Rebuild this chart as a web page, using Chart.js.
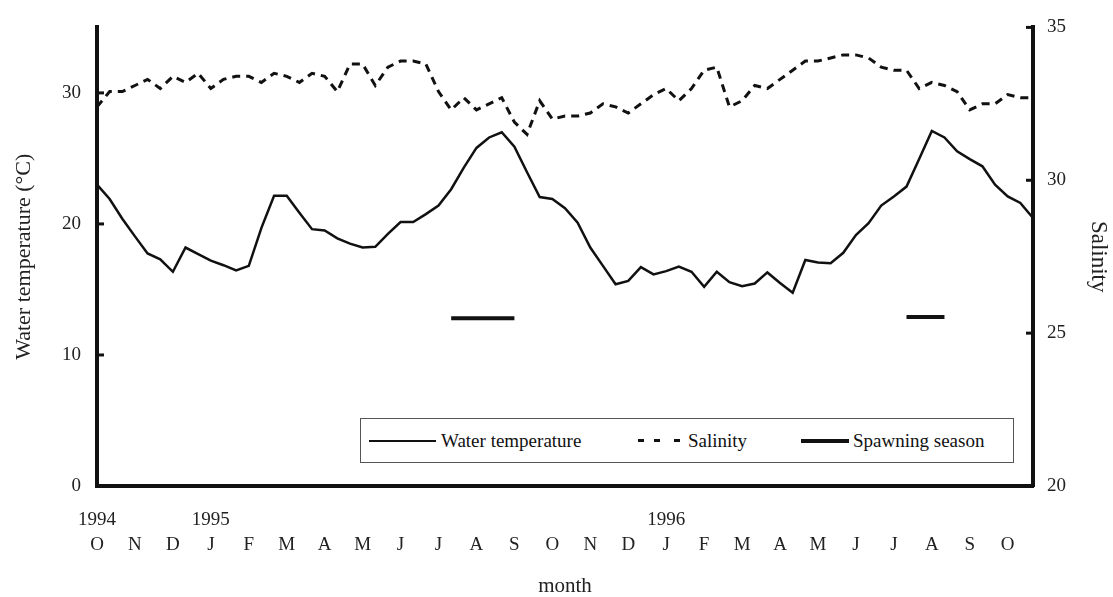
<!DOCTYPE html>
<html>
<head>
<meta charset="utf-8">
<script src="https://cdn.jsdelivr.net/npm/chart.js@4.4.0/dist/chart.umd.min.js"></script>
<style>
  html, body { margin: 0; padding: 0; background: #fff; }
  #wrap { position: relative; width: 1113px; height: 597px; }
  #legend {
    position: absolute; left: 360px; top: 418px; width: 652px; height: 43px;
    border: 1px solid #555; background: #fff;
    font: 19px "Liberation Serif", serif; color: #111;
  }
  #legend .item { position: absolute; top: 0; height: 43px; line-height: 43px; white-space: nowrap; }
  #legend .solid { position: absolute; height: 2px; background: #111; top: 21px; }
  #legend .thick { position: absolute; height: 4px; background: #111; top: 20px; }
  #legend .dash { position: absolute; width: 6px; height: 3px; background: #111; top: 20px; }
</style>
</head>
<body>
<div id="wrap">
  <canvas id="myChart" width="1113" height="597"></canvas>
  <div id="legend">
    <span class="solid" style="left:8px;width:67px"></span>
    <span class="item" style="left:80px">Water temperature</span>
    <span class="dash" style="left:277px"></span>
    <span class="dash" style="left:293px"></span>
    <span class="dash" style="left:313px"></span>
    <span class="item" style="left:327px">Salinity</span>
    <span class="thick" style="left:440px;width:48px"></span>
    <span class="item" style="left:492px">Spawning season</span>
  </div>
</div>
<script>
// one letter per month, Oct 1994 .. Oct 1996 (three ten-day values per month)
const months = ['O', 'N', 'D', 'J', 'F', 'M', 'A', 'M', 'J', 'J', 'A', 'S',
    'O', 'N', 'D', 'J', 'F', 'M', 'A', 'M', 'J', 'J', 'A', 'S', 'O'];
const years = ['1994', '', '', '1995', '', '', '', '', '', '', '', '',
    '', '', '', '1996', '', '', '', '', '', '', '', '', ''];

const temperature = [23.0, 21.9, 20.4, 19.05, 17.75, 17.3, 16.35, 18.2, 17.7, 17.2,
    16.85, 16.45, 16.8, 19.7, 22.15, 22.15, 20.85, 19.6, 19.5, 18.9,
    18.5, 18.2, 18.25, 19.25, 20.15, 20.15, 20.75, 21.4, 22.65, 24.3,
    25.8, 26.6, 27.0, 25.9, 23.95, 22.05, 21.9, 21.2, 20.1, 18.2,
    16.8, 15.4, 15.65, 16.7, 16.15, 16.4, 16.75, 16.35, 15.2, 16.35,
    15.55, 15.25, 15.45, 16.3, 15.5, 14.75, 17.25, 17.05, 17.0, 17.8,
    19.15, 20.05, 21.4, 22.1, 22.85, 24.95, 27.1, 26.6, 25.55, 24.95,
    24.4, 23.0, 22.1, 21.6, 20.45];

const salinity = [32.4, 32.9, 32.9, 33.1, 33.3, 33.0, 33.4, 33.2, 33.5, 33.0,
    33.3, 33.4, 33.4, 33.2, 33.5, 33.4, 33.2, 33.5, 33.4, 32.9,
    33.8, 33.8, 33.1, 33.7, 33.9, 33.9, 33.8, 32.9, 32.3, 32.7,
    32.3, 32.5, 32.7, 31.9, 31.5, 32.6, 32.0, 32.1, 32.1, 32.2,
    32.5, 32.4, 32.2, 32.5, 32.8, 33.0, 32.6, 33.0, 33.6, 33.7,
    32.4, 32.6, 33.1, 33.0, 33.3, 33.6, 33.9, 33.9, 34.0, 34.1,
    34.1, 34.0, 33.7, 33.6, 33.6, 33.0, 33.2, 33.1, 32.9, 32.3,
    32.5, 32.5, 32.8, 32.7, 32.7];

// spawning seasons: first and last ten-day index, drawn at a fixed level
const spawnStart = [28, 64];
const spawnEnd = [33, 67];
const spawnLevel = [12.8, 12.9];

const labels = temperature.map((v, i) => i % 3 === 0 ? [years[i / 3], months[i / 3]] : '');
const spawning = temperature.map(() => null);
spawnStart.forEach((s, k) => {
    for (let i = s; i <= spawnEnd[k]; i++) spawning[i] = spawnLevel[k];
});

const serif = '"Liberation Serif", "Times New Roman", serif';

// tick marks pointing into the plot, as in the printed figure
const innerTicks = {
    id: 'innerTicks',
    afterDraw(chart) {
        const ctx = chart.ctx;
        ctx.save();
        ctx.strokeStyle = '#111';
        ctx.lineWidth = 3;
        ['y', 'y1'].forEach(id => {
            const s = chart.scales[id];
            const x = id === 'y' ? s.right : s.left;
            const dir = id === 'y' ? 1 : -1;
            s.ticks.forEach(t => {
                const py = s.getPixelForValue(t.value);
                ctx.beginPath();
                ctx.moveTo(x, py);
                ctx.lineTo(x + dir * 7, py);
                ctx.stroke();
            });
        });
        ctx.restore();
    }
};

const data = {
    labels: labels,
    datasets: [{
        label: 'Water temperature',
        data: temperature,
        yAxisID: 'y',
        borderColor: '#111',
        borderWidth: 2.5,
        pointRadius: 0,
        tension: 0
    }, {
        label: 'Salinity',
        data: salinity,
        yAxisID: 'y1',
        borderColor: '#111',
        borderWidth: 3,
        borderDash: [8, 6],
        pointRadius: 0,
        tension: 0
    }, {
        label: 'Spawning season',
        data: spawning,
        yAxisID: 'y',
        borderColor: '#111',
        borderWidth: 4,
        borderCapStyle: 'butt',
        pointRadius: 0,
        spanGaps: false
    }]
};

const config = {
    type: 'line',
    data: data,
    plugins: [innerTicks],
    options: {
        responsive: false,
        animation: false,
        layout: { padding: { top: 24, left: 0, right: 0, bottom: 0 } },
        plugins: {
            legend: { display: false },
            tooltip: { enabled: false }
        },
        scales: {
            x: {
                type: 'category',
                afterFit: (scale) => { scale.height = 111; },
                grid: { display: false, drawTicks: false },
                border: { display: true, color: '#111', width: 4 },
                ticks: {
                    autoSkip: false, maxRotation: 0, minRotation: 0, padding: 21,
                    color: '#222',
                    font: { family: serif, size: 19, lineHeight: 1.32 }
                },
                title: {
                    display: true, text: 'month', color: '#222',
                    font: { family: serif, size: 21, lineHeight: 1 },
                    padding: { top: 0, bottom: 0 }
                }
            },
            y: {
                position: 'left',
                min: 0, max: 35,
                afterFit: (scale) => { scale.width = 97; },
                grid: { display: false, drawTicks: false },
                border: { display: true, color: '#111', width: 4 },
                ticks: {
                    stepSize: 10, includeBounds: false, padding: 16, color: '#222',
                    font: { family: serif, size: 19 }
                },
                title: {
                    display: true, text: 'Water temperature (°C)', color: '#222',
                    font: { family: serif, size: 22 },
                    padding: { top: 11, bottom: 0 }
                }
            },
            y1: {
                position: 'right',
                min: 20, max: 35,
                afterFit: (scale) => { scale.width = 80; },
                grid: { display: false, drawTicks: false },
                border: { display: true, color: '#111', width: 4 },
                ticks: {
                    stepSize: 5, padding: 14, color: '#222',
                    font: { family: serif, size: 19 }
                },
                title: {
                    display: true, text: 'Salinity', color: '#222',
                    font: { family: serif, size: 23 },
                    padding: { top: 1, bottom: 0 }
                }
            }
        }
    }
};

const myChart = new Chart(document.getElementById('myChart'), config);
</script>
</body>
</html>
